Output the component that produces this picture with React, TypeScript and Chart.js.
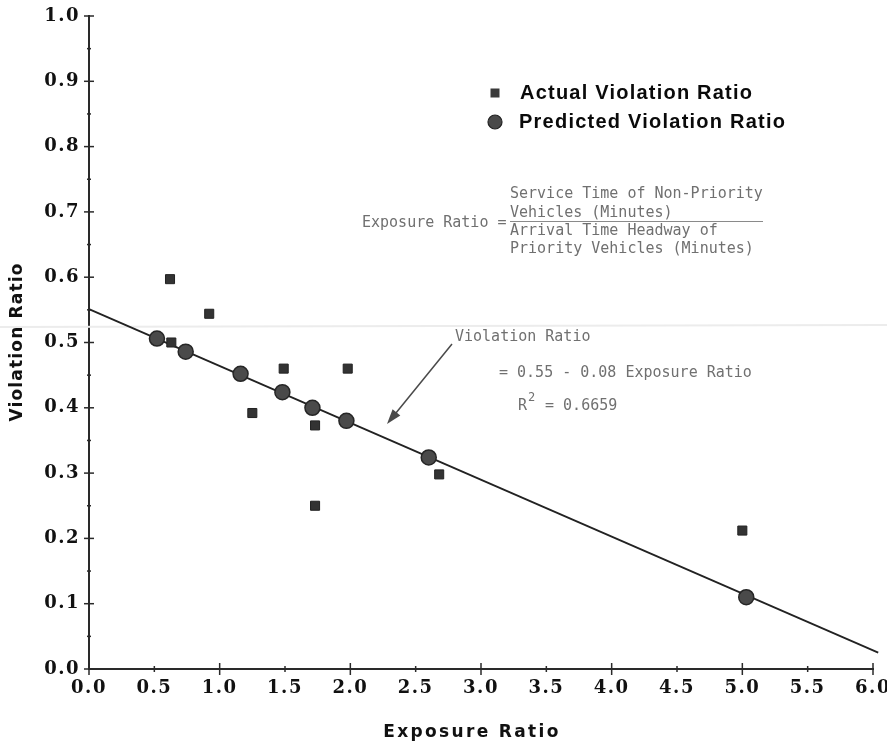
import React, { useEffect, useRef } from 'react';
import { Chart, registerables } from 'chart.js';

Chart.register(...registerables);

// Actual violation ratios (squares)
const actualX = [0.62, 0.63, 0.92, 1.25, 1.49, 1.73, 1.73, 1.98, 2.68, 5.0];
const actualY = [0.597, 0.5, 0.544, 0.392, 0.46, 0.373, 0.25, 0.46, 0.298, 0.212];

// Predicted violation ratios (circles)
const predictedX = [0.52, 0.74, 1.16, 1.48, 1.71, 1.97, 2.6, 5.03];
const predictedY = [0.506, 0.486, 0.452, 0.424, 0.4, 0.38, 0.324, 0.11];

// Fitted regression line end points
const fitX = [0, 6.04];
const fitY = [0.551, 0.025];

const xTickStep = 0.5;
const yTickStep = 0.1;

const legendLabels = ['Actual Violation Ratio', 'Predicted Violation Ratio'];
const formulaLines = [
  'Service Time of Non-Priority',
  'Vehicles (Minutes)',
  'Arrival Time Headway of',
  'Priority Vehicles (Minutes)',
];
const formulaLeft = 'Exposure Ratio =';
const arrowLabel = 'Violation Ratio';
const equationText = '= 0.55 - 0.08 Exposure Ratio';
const r2Value = ' = 0.6659';

const xTitle = 'Exposure Ratio';
const yTitle = 'Violation Ratio';

function drawText(
  ctx: CanvasRenderingContext2D,
  s: string,
  x: number,
  y: number,
  font: string,
  color: string,
  align: CanvasTextAlign = 'left',
  width?: number
) {
  ctx.save();
  ctx.font = font;
  ctx.fillStyle = color;
  ctx.textAlign = align;
  ctx.textBaseline = 'middle';
  (ctx as any).letterSpacing = '0px';
  if (width) {
    const w = ctx.measureText(s).width;
    const sp = (width - w) / Math.max(1, s.length - 1);
    (ctx as any).letterSpacing = sp + 'px';
  }
  ctx.fillText(s, x, y);
  ctx.restore();
}

const decoPlugin = {
  id: 'deco',
  beforeDraw(chart: any) {
    (chart.ctx as any).letterSpacing = '1.5px';
  },
  beforeDatasetsDraw(chart: any) {
    const ctx: CanvasRenderingContext2D = chart.ctx;
    // faint scan line across the page
    ctx.save();
    ctx.strokeStyle = '#ececec';
    ctx.lineWidth = 2;
    ctx.beginPath();
    ctx.moveTo(0, 327);
    ctx.lineTo(chart.width, 325);
    ctx.stroke();
    ctx.restore();
  },
  afterDraw(chart: any) {
    const ctx: CanvasRenderingContext2D = chart.ctx;
    (ctx as any).letterSpacing = '0px';
    const xs = chart.scales.x;
    const ys = chart.scales.y;
    const area = chart.chartArea;

    // tick marks crossing the axes
    ctx.save();
    ctx.strokeStyle = '#2a2a2a';
    ctx.lineWidth = 1.5;
    for (let i = 0; i <= 20; i++) {
      const v = i * 0.05;
      const py = ys.getPixelForValue(v);
      const major = i % 2 === 0;
      const len = major ? 5 : 2;
      ctx.beginPath();
      ctx.moveTo(area.left - len, py);
      ctx.lineTo(area.left + len, py);
      ctx.stroke();
    }
    for (let i = 0; i <= 12; i++) {
      const v = i * 0.5;
      const px = xs.getPixelForValue(v);
      const major = i % 2 === 0;
      const len = major ? 6 : 3;
      ctx.beginPath();
      ctx.moveTo(px, area.bottom - len);
      ctx.lineTo(px, area.bottom + len);
      ctx.stroke();
    }
    ctx.restore();

    // axis titles
    drawText(ctx, xTitle, 472, 733, 'bold 17px "DejaVu Sans"', '#111', 'center', 175);
    ctx.save();
    ctx.translate(18, 342);
    ctx.rotate(-Math.PI / 2);
    drawText(ctx, yTitle, 0, 0, 'bold 17px "DejaVu Sans"', '#111', 'center', 158);
    ctx.restore();

    // legend
    ctx.save();
    ctx.fillStyle = '#3a3a3a';
    ctx.fillRect(490.5, 88.5, 9, 9);
    ctx.beginPath();
    ctx.arc(495, 122, 7, 0, Math.PI * 2);
    ctx.fillStyle = '#4a4a4a';
    ctx.fill();
    ctx.strokeStyle = '#222';
    ctx.lineWidth = 1.2;
    ctx.stroke();
    ctx.restore();
    drawText(ctx, legendLabels[0], 520, 93, 'bold 20px "Liberation Sans"', '#0a0a0a', 'left', 232);
    drawText(ctx, legendLabels[1], 519, 122, 'bold 20px "Liberation Sans"', '#0a0a0a', 'left', 266);

    // formula
    const mono = '15px "DejaVu Sans Mono"';
    const grey = '#707070';
    drawText(ctx, formulaLeft, 362, 223, mono, grey);
    drawText(ctx, formulaLines[0], 510, 194, mono, grey);
    drawText(ctx, formulaLines[1], 510, 213, mono, grey);
    drawText(ctx, formulaLines[2], 510, 231, mono, grey);
    drawText(ctx, formulaLines[3], 510, 249, mono, grey);
    ctx.save();
    ctx.strokeStyle = '#8a8a8a';
    ctx.lineWidth = 1;
    ctx.beginPath();
    ctx.moveTo(510, 221.5);
    ctx.lineTo(763, 221.5);
    ctx.stroke();
    ctx.restore();

    // regression annotation
    drawText(ctx, arrowLabel, 455, 337, mono, grey);
    drawText(ctx, equationText, 499, 373, mono, grey);
    drawText(ctx, 'R', 518, 406, mono, grey);
    drawText(ctx, '2', 528, 398, '12px "DejaVu Sans Mono"', grey);
    drawText(ctx, r2Value, 536, 406, mono, grey);

    // arrow
    const x1 = 452, y1 = 344, x2 = 387, y2 = 424;
    const ang = Math.atan2(y2 - y1, x2 - x1);
    ctx.save();
    ctx.strokeStyle = '#4a4a4a';
    ctx.fillStyle = '#4a4a4a';
    ctx.lineWidth = 1.5;
    ctx.beginPath();
    ctx.moveTo(x1, y1);
    ctx.lineTo(x2 - 10 * Math.cos(ang), y2 - 10 * Math.sin(ang));
    ctx.stroke();
    ctx.beginPath();
    ctx.moveTo(x2, y2);
    ctx.lineTo(x2 - 15 * Math.cos(ang) + 5 * Math.sin(ang), y2 - 15 * Math.sin(ang) - 5 * Math.cos(ang));
    ctx.lineTo(x2 - 15 * Math.cos(ang) - 5 * Math.sin(ang), y2 - 15 * Math.sin(ang) + 5 * Math.cos(ang));
    ctx.closePath();
    ctx.fill();
    ctx.restore();
  },
};

export default function App() {
  const ref = useRef<HTMLCanvasElement>(null);
  useEffect(() => {
    document.body.style.margin = '0';
    const canvas = ref.current!;
    const tickFont = { family: '"DejaVu Serif"', weight: 'bold' as const, size: 18 };
    const chart = new Chart(canvas, {
      type: 'scatter',
      data: {
        datasets: [
          {
            label: legendLabels[1],
            data: predictedX.map((x, i) => ({ x, y: predictedY[i] })),
            pointStyle: 'circle',
            pointRadius: 7.5,
            backgroundColor: '#4a4a4a',
            borderColor: '#262626',
            borderWidth: 1.5,
          },
          {
            label: legendLabels[0],
            data: actualX.map((x, i) => ({ x, y: actualY[i] })),
            pointStyle: 'rect',
            pointRadius: 6.4,
            backgroundColor: '#333',
            borderColor: '#222',
            borderWidth: 1,
          },
          {
            type: 'line',
            label: 'fit',
            data: fitX.map((x, i) => ({ x, y: fitY[i] })),
            borderColor: '#222',
            borderWidth: 1.8,
            pointRadius: 0,
            showLine: true,
            fill: false,
            clip: false as any,
          } as any,
        ],
      },
      options: {
        responsive: false,
        devicePixelRatio: 1,
        animation: false,
        layout: { padding: { top: 16, right: 14, bottom: 0, left: 0 } },
        plugins: { legend: { display: false }, tooltip: { enabled: false } },
        scales: {
          x: {
            type: 'linear',
            min: 0,
            max: 6,
            ticks: {
              stepSize: xTickStep,
              callback: (v: any) => Number(v).toFixed(1),
              font: tickFont,
              color: '#111',
              padding: 9,
              maxRotation: 0,
              autoSkip: false,
            },
            grid: { display: true, drawOnChartArea: false, drawTicks: false },
            border: { display: true, color: '#2a2a2a', width: 2 },
            afterFit: (s: any) => {
              s.height = 75;
              s.paddingLeft = 0;
              s.paddingRight = 0;
            },
          },
          y: {
            type: 'linear',
            min: 0,
            max: 1,
            ticks: {
              stepSize: yTickStep,
              callback: (v: any) => Number(v).toFixed(1),
              font: tickFont,
              color: '#111',
              padding: 9,
            },
            grid: { display: true, drawOnChartArea: false, drawTicks: false },
            border: { display: true, color: '#2a2a2a', width: 2 },
            afterFit: (s: any) => {
              s.width = 89;
              s.paddingTop = 0;
              s.paddingBottom = 0;
            },
          },
        },
      },
      plugins: [decoPlugin],
    });
    return () => chart.destroy();
  }, []);
  return (
    <div style={{ width: 887, height: 744 }}>
      <canvas ref={ref} width={887} height={744} style={{ display: 'block', width: 887, height: 744 }} />
    </div>
  );
}
